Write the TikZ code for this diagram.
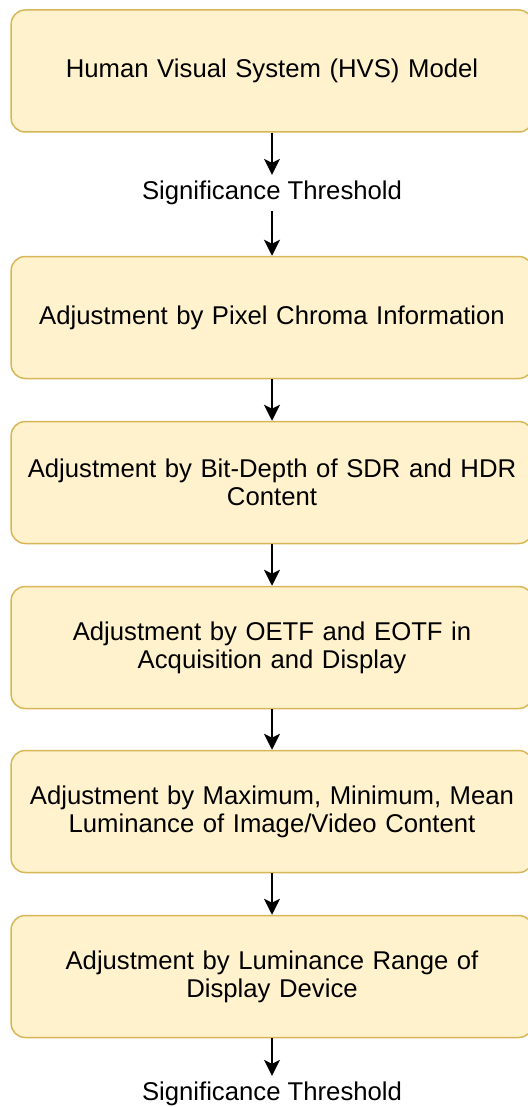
\documentclass[tikz,border=0pt]{standalone}
\usepackage{fontspec}
\setmainfont{Liberation Sans}
\usetikzlibrary{arrows.meta}

\definecolor{boxfill}{HTML}{FFF2CC}
\definecolor{boxline}{HTML}{D6B656}

\tikzset{
  stage/.style={draw=boxline, fill=boxfill, line width=1.5pt, rounded corners=14pt,
    minimum width=520pt, minimum height=122pt, text width=515pt, align=center,
    font=\fontsize{25.7}{28}\selectfont},
  label/.style={font=\fontsize{25.7}{28}\selectfont, inner sep=6pt},
  flow/.style={line width=1.6pt, -{Stealth[length=16pt,width=16pt,inset=4pt]}}
}

\begin{document}
\begin{tikzpicture}[x=1pt,y=-1pt]
\useasboundingbox (0,0) rectangle (527,1107);

%% stages
\node[stage] (hvs)   at (272,71)    {Human Visual System (HVS) Model};
\node[label] (thrA)  at (272,193)   {Significance Threshold};
\node[stage] (chroma) at (272,317.5) {Adjustment by Pixel Chroma Information};
\node[stage] (depth) at (272,482.5) {Adjustment by Bit-Depth of SDR and HDR\\Content};
\node[stage] (oetf)  at (272,647.5) {Adjustment by OETF and EOTF in\\Acquisition and Display};
\node[stage] (lum)   at (272,811.5) {Adjustment by Maximum, Minimum, Mean\\Luminance of Image/Video Content};
\node[stage] (range) at (272,976.5) {Adjustment by Luminance Range of\\Display Device};
\node[label] (thrB)  at (272,1094)  {Significance Threshold};

%% arrows
\draw[flow] (hvs)    -- (thrA);
\draw[flow] (thrA)   -- (chroma);
\draw[flow] (chroma) -- (depth);
\draw[flow] (depth)  -- (oetf);
\draw[flow] (oetf)   -- (lum);
\draw[flow] (lum)    -- (range);
\draw[flow] (range)  -- (thrB);
\end{tikzpicture}
\end{document}
